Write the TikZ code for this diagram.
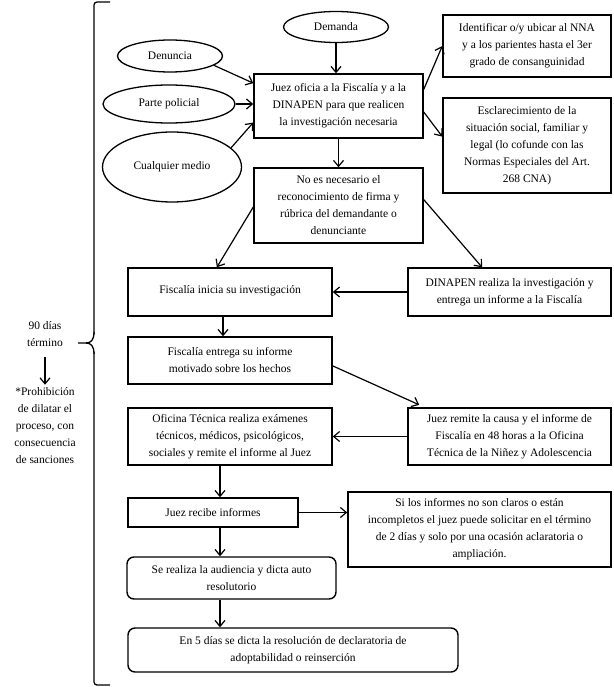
\documentclass[tikz,border=0pt]{standalone}
\usepackage{fontspec}
\setmainfont{Liberation Serif}
\usetikzlibrary{arrows.meta,shapes.geometric,calc}
\begin{document}
\begin{tikzpicture}[x=1pt,y=-1pt,
  every node/.style={font=\fontsize{11.5}{17}\selectfont,align=center,inner sep=0pt},
  box/.style={draw,line width=1.4pt,rectangle},
  rbox/.style={draw,line width=1.4pt,rectangle,rounded corners=7pt},
  oval/.style={draw,line width=1.3pt,ellipse},
  arr/.style={line width=1.2pt,-{Straight Barb[length=6pt,width=10pt,line width=1.2pt]}}
]
\useasboundingbox (0,0) rectangle (613,687);
% ellipses
\node[oval,minimum width=105,minimum height=31] (demanda) at (336,27) {Demanda};
\node[oval,minimum width=105,minimum height=32] (denuncia) at (170,56) {Denuncia};
\node[oval,minimum width=132,minimum height=38] (parte) at (169,104) {Parte policial};
\node[oval,minimum width=139,minimum height=70] (cualq) at (172,167) {Cualquier medio};
% boxes
\node[box,minimum width=169,minimum height=64] (juez) at (338.5,106) {Juez oficia a la Fiscalía y a la\\DINAPEN para que realicen\\la investigación necesaria};
\node[box,minimum width=168,minimum height=62] (ident) at (527,46) {Identificar o/y ubicar al NNA\\y a los parientes hasta el 3er\\grado de consanguinidad};
\node[box,minimum width=168,minimum height=95] (escl) at (527,145.5) {Esclarecimiento de la\\situación social, familiar y\\legal (lo cofunde con las\\Normas Especiales del Art.\\268 CNA)};
\node[box,minimum width=169,minimum height=75] (noes) at (338.5,205.5) {No es necesario el\\reconocimiento de firma y\\rúbrica del demandante o\\denunciante};
\node[box,minimum width=204,minimum height=48] (fisc1) at (230,292) {\raisebox{5pt}{Fiscalía inicia su investigación}};
\node[box,minimum width=203,minimum height=48] (dinap) at (509.5,292) {DINAPEN realiza la investigación y\\entrega un informe a la Fiscalía};
\node[box,minimum width=204,minimum height=47] (fisc2) at (230,360.5) {Fiscalía entrega su informe\\motivado sobre los hechos};
\node[box,minimum width=204,minimum height=57] (ofic) at (230,436.5) {Oficina Técnica realiza exámenes\\técnicos, médicos, psicológicos,\\sociales y remite el informe al Juez};
\node[box,minimum width=203,minimum height=57] (remite) at (509.5,436.5) {Juez remite la causa y el informe de\\Fiscalía en 48 horas a la Oficina\\Técnica de la Niñez y Adolescencia};
\node[box,minimum width=170,minimum height=29] (recibe) at (213,512.5) {Juez recibe informes};
\node[box,minimum width=263,minimum height=75] (silos) at (479.5,529.5) {Si los informes no son claros o están\\incompletos el juez puede solicitar en el término\\de 2 días y solo por una ocasión aclaratoria o\\ampliación.};
\node[rbox,minimum width=209,minimum height=42] (real) at (231.5,578) {Se realiza la audiencia y dicta auto\\resolutorio};
\node[rbox,minimum width=330,minimum height=44] (en5) at (293,650) {En 5 días se dicta la resolución de declaratoria de\\adoptabilidad o reinserción};
% left texts
\node (t90) at (45,334) {90 días\\término};
\node (prohib) at (45,426) {\fontsize{11.5}{16.3}\selectfont *Prohibición\\de dilatar el\\proceso, con\\consecuencia\\de sanciones};
\coordinate (spineA) at (223,0);
\coordinate (spineB) at (220,0);
% connectors
\draw[arr] (demanda.south) -- (demanda.south |- juez.north);
\draw[arr] (denuncia.-12) -- (juez.165);
\draw[arr] (parte.east) -- (parte.east -| juez.west);
\draw[arr] (cualq.18) -- (juez.191);
\draw[arr] (juez.11) -- (ident.west);
\draw[arr] (juez.-4) -- (escl.174);
\draw[arr] (juez.south) -- (noes.north);
\draw[arr] (noes.181) -- (fisc1.118);
\draw[arr] (noes.4) -- (dinap.138);
\draw[arr] (dinap.west) -- (fisc1.east);
\draw[arr] (fisc1.south -| spineA) -- (fisc2.north -| spineA);
\draw[arr,shorten >=6pt] (fisc2.-3) -- (remite.161);
\draw[arr] (remite.west) -- (ofic.east);
\draw[arr] (ofic.south -| spineB) -- (recibe.north -| spineB);
\draw[arr] (recibe.east) -- (recibe.east -| silos.west);
\draw[arr] (recibe.south -| spineB) -- (real.north -| spineB);
\draw[arr] (real.south -| spineB) -- (en5.north -| spineB);
\draw[arr,shorten <=10pt,shorten >=3pt] (t90.south) -- (prohib.north);
% brace
\draw[line width=1.3pt,rounded corners=3pt] (110,2) -- (94,2) -- (94,334);
\draw[line width=1.3pt] (94,332) .. controls (94,340) and (91,343) .. (86,343) -- (78,343);
\draw[line width=1.3pt] (86,343) .. controls (91,343) and (94,346) .. (94,354);
\draw[line width=1.3pt,rounded corners=3pt] (94,352) -- (94,685) -- (110,685);
\end{tikzpicture}
\end{document}
